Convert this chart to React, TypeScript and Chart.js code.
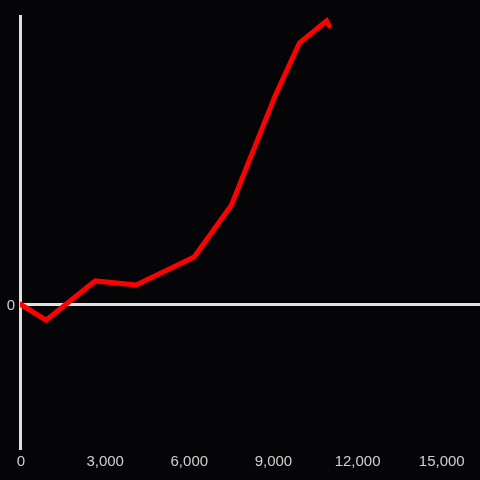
import React, { useEffect, useRef } from "react";
import { Chart, registerables } from "chart.js";

Chart.register(...registerables);

const xValues = [0, 930, 2680, 4140, 6210, 7540, 9110, 9960, 10930, 11030];
const yValues = [0, -5.6, 8.0, 6.6, 16.3, 34.4, 72.6, 90.6, 98.3, 96.5];
const xTicks = [0, 3000, 6000, 9000, 12000, 15000];
const yTicks = [0];

export default function App() {
  const ref = useRef<HTMLCanvasElement>(null);
  useEffect(() => {
    document.body.style.margin = "0";
    document.body.style.background = "#050407";
    const canvas = ref.current!;
    const bg = {
      id: "bg",
      beforeDraw(chart: any) {
        const { ctx, width, height } = chart;
        ctx.save();
        ctx.fillStyle = "#050407";
        ctx.fillRect(0, 0, width, height);
        ctx.restore();
      },
    };
    const chart = new Chart(canvas, {
      type: "line",
      data: {
        datasets: [
          {
            data: xValues.map((x, i) => ({ x, y: yValues[i] })),
            borderColor: "#ff0000",
            borderWidth: 5,
            pointRadius: 0,
            tension: 0,
            borderJoinStyle: "miter",
            borderCapStyle: "round",
          },
        ],
      },
      options: {
        animation: false,
        responsive: false,
        maintainAspectRatio: false,
        layout: { padding: { top: 16, right: 0, left: 0, bottom: 0 } },
        plugins: { legend: { display: false }, tooltip: { enabled: false } },
        scales: {
          x: {
            type: "linear",
            min: 0,
            max: 16400,
            afterBuildTicks: (s: any) => {
              s.ticks = xTicks.map((v) => ({ value: v }));
            },
            afterFit: (s: any) => {
              s.height = 32;
            },
            border: { display: false },
            grid: { display: false },
            ticks: {
              color: "#d0d0d0",
              font: { family: "'Liberation Sans', Arial, sans-serif", size: 15 },
              padding: -3,
              labelOffset: 1,
              maxRotation: 0,
              callback: (v: any) => Number(v).toLocaleString("en-US"),
            },
          },
          y: {
            min: -50,
            max: 100,
            afterBuildTicks: (s: any) => {
              s.ticks = yTicks.map((v) => ({ value: v }));
            },
            afterFit: (s: any) => {
              s.width = 20;
            },
            border: { display: true, color: "#e0e0e0", width: 3 },
            grid: { color: "#e0e0e0", lineWidth: 3, drawTicks: false },
            ticks: {
              color: "#d0d0d0",
              font: { family: "'Liberation Sans', Arial, sans-serif", size: 15 },
              padding: 5,
              labelOffset: 2,
              callback: (v: any) => String(v),
            },
          },
        },
      },
      plugins: [bg],
    });
    return () => chart.destroy();
  }, []);
  return (
    <div style={{ width: 480, height: 480 }}>
      <canvas ref={ref} width={480} height={480} style={{ display: "block" }} />
    </div>
  );
}
